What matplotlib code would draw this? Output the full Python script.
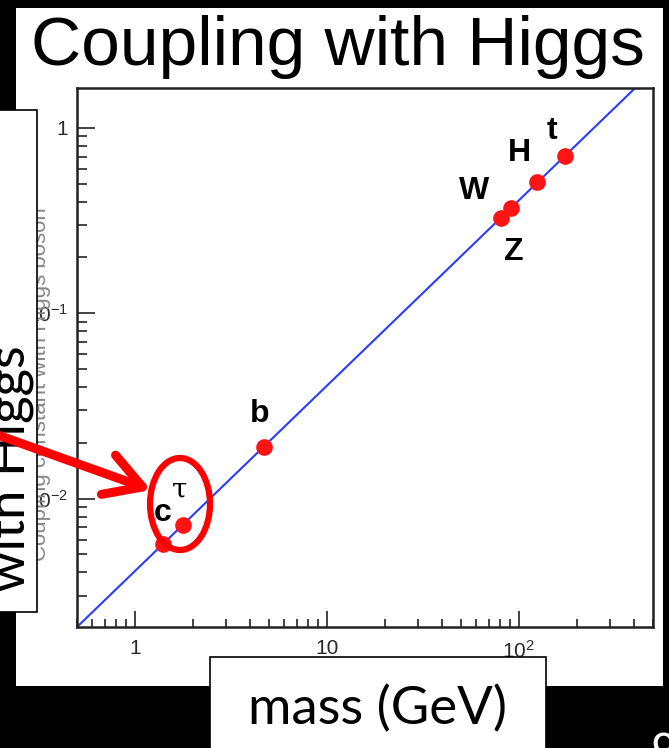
import matplotlib.pyplot as plt
from matplotlib.patches import Rectangle, Ellipse, FancyArrowPatch
from matplotlib.ticker import NullFormatter

plt.rcParams['mathtext.fontset'] = 'custom'
plt.rcParams['mathtext.rm'] = 'Liberation Sans'
plt.rcParams['mathtext.it'] = 'Liberation Sans:italic'

# ---------------- data ----------------
particles = ['c', 'τ', 'b', 'W', 'Z', 'H', 't']
masses = [1.4, 1.777, 4.7, 80.4, 91.2, 125.0, 173.0]          # GeV
couplings = [0.0057, 0.0072, 0.019, 0.327, 0.371, 0.508, 0.703]

line_mass = [0.5, 500.0]
line_coupling = [0.00203, 2.03]

xtick_vals = [1, 10, 100]
xtick_labels = ['1', '10', '$10^{2}$']
ytick_vals = [0.01, 0.1, 1]
ytick_labels = ['$10^{-2}$', '$10^{-1}$', '1']

# label offsets in pixels (dx, dy) from each point
offsets = {'c': (0, 31), 'τ': (-3, 35), 'b': (-4, 33), 'W': (-27, 27),
           'Z': (3, -44), 'H': (-18, 29), 't': (-13, 25)}

W, H = 669, 748


def px(x, y):
    return (x / W, 1 - y / H)


fig = plt.figure(figsize=(W / 100, H / 100), dpi=100, facecolor='black')

# white slide panel
fig.add_artist(Rectangle(px(16, 686), (663 - 16) / W, (686 - 8) / H,
                         transform=fig.transFigure, fc='white', ec='none', zorder=-1))

ax = fig.add_axes([77 / W, 1 - 627 / H, 576 / W, 539 / H])
ax.set_xscale('log')
ax.set_yscale('log')

ax.plot(line_mass, line_coupling, color='#2a3cff', lw=1.5, zorder=2)
ax.plot(masses, couplings, 'o', color='#ff1414', ms=12, mec='none', zorder=3)

for name, m, g in zip(particles, masses, couplings):
    dx, dy = offsets[name]
    if name == 'τ':
        ax.annotate(name, (m, g), xytext=(dx, dy), textcoords='offset pixels',
                    ha='center', va='center', fontsize=20, color='black',
                    family='DejaVu Serif')
    else:
        ax.annotate(name, (m, g), xytext=(dx, dy), textcoords='offset pixels',
                    ha='center', va='center', fontsize=23, fontweight='bold',
                    family='Liberation Sans', color='black')

ax.set_xticks(xtick_vals, xtick_labels)
ax.set_yticks(ytick_vals, ytick_labels)
ax.xaxis.set_minor_formatter(NullFormatter())
ax.yaxis.set_minor_formatter(NullFormatter())
ax.set_xlim(0.5, 500)
ax.set_ylim(0.00203, 1.64)

ax.tick_params(which='both', direction='in', color='#222222', width=1.2,
               labelcolor='#2a2a2a', labelsize=15)
ax.tick_params(axis='y', which='major', length=13, pad=6.5)
ax.tick_params(axis='y', which='minor', length=7)
ax.tick_params(axis='x', which='major', length=11.5, pad=9)
ax.tick_params(axis='x', which='minor', length=5.5)
for lab in ax.get_xticklabels() + ax.get_yticklabels():
    lab.set_family('Liberation Sans')
for s in ax.spines.values():
    s.set_linewidth(1.8)
    s.set_color('#222222')

ax.set_ylabel('Coupling constant with Higgs boson', fontsize=16, color='#888888',
              family='Liberation Sans')
ax.yaxis.set_label_coords(-0.045, 0.45)
ax.set_xlabel('mass (GeV)', fontsize=13, color='#888888', family='Liberation Sans')

# title
fig.text(338 / W, 1 - 65 / H, 'Coupling with Higgs', fontsize=50,
         family='Liberation Sans', ha='center', va='baseline', color='black')

# overlay boxes
fig.add_artist(Rectangle(px(-10, 612), 47 / W, 502 / H, transform=fig.transFigure,
                         fc='white', ec='black', lw=1.2, zorder=4))
fig.text(24 / W, 1 - 592 / H, 'with Higgs', rotation=90, rotation_mode='anchor',
         ha='left', va='baseline', fontsize=38, family='Lato', color='black', zorder=6)

fig.add_artist(Rectangle(px(210, 760), 336 / W, 103 / H, transform=fig.transFigure,
                         fc='white', ec='black', lw=1.2, zorder=4))
fig.text(378 / W, 1 - 724 / H, 'mass (GeV)', ha='center', va='baseline',
         fontsize=38, family='Lato', color='black', zorder=6)

# red highlight
fig.add_artist(Ellipse(px(180, 504), 60 / W, 92 / H, transform=fig.transFigure,
                       fill=False, ec='red', lw=4.5, zorder=7))
fig.add_artist(FancyArrowPatch(px(-5, 434), px(151, 490), transform=fig.transFigure,
                               arrowstyle='->,head_length=1.3,head_width=0.75',
                               mutation_scale=20, lw=6.5, color='red',
                               capstyle='round', joinstyle='round',
                               shrinkA=0, shrinkB=0, zorder=7))

fig.text(650 / W, 1 - 764 / H, '9', color='white', fontsize=30, va='baseline')

fig.savefig('out.png', dpi=100, facecolor='black')
